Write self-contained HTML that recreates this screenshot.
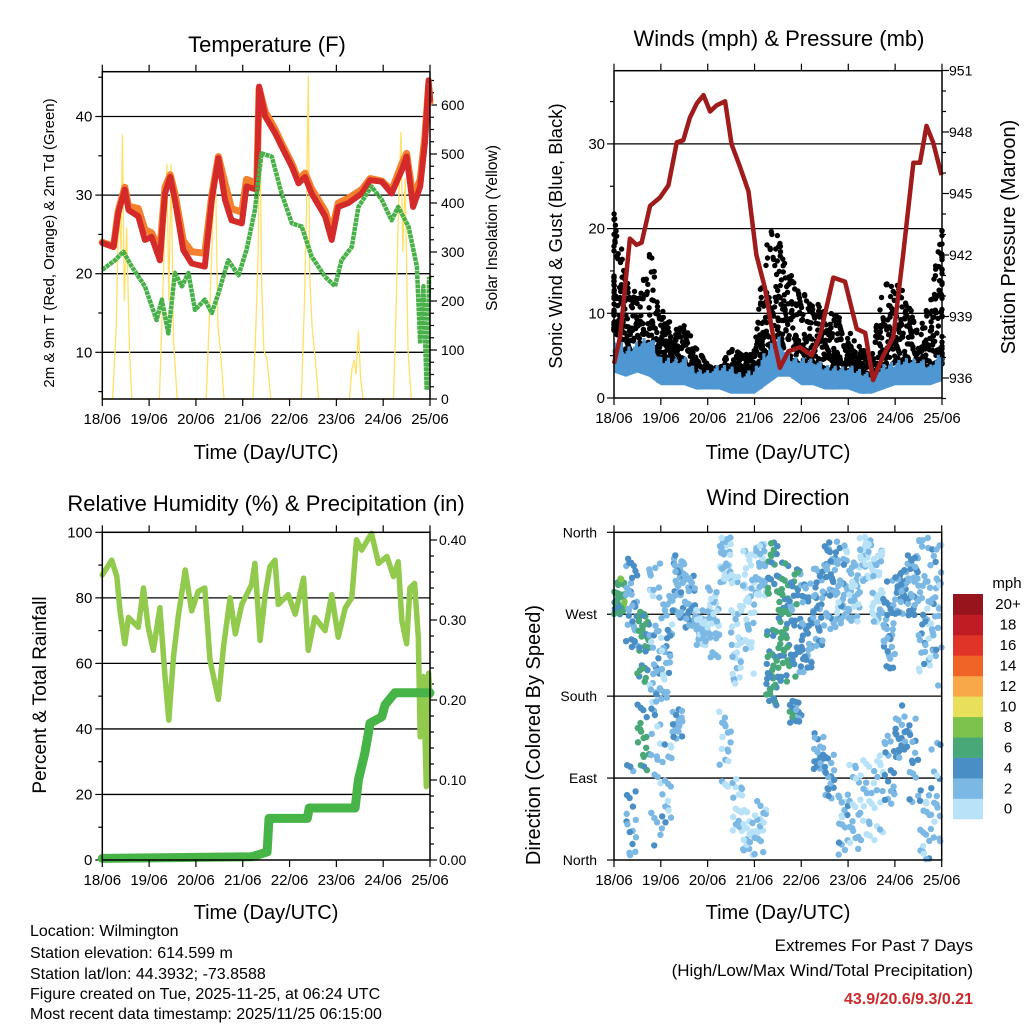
<!DOCTYPE html>
<html><head><meta charset="utf-8"><title>Station Meteogram</title>
<style>
html,body{margin:0;padding:0;background:#fff;}
svg{display:block;font-family:"Liberation Sans",Arial,sans-serif;}
</style></head>
<body>
<svg id="fig" width="1024" height="1024" viewBox="0 0 1024 1024" xmlns="http://www.w3.org/2000/svg">
<rect x="0" y="0" width="1024" height="1024" fill="#fff"/>
<g id="p1"></g>
<g id="p2"></g>
<g id="p3"></g>
<g id="p4"></g>

<text x="267" y="52" font-size="22" text-anchor="middle">Temperature (F)</text>
<text x="779" y="46" font-size="22" text-anchor="middle">Winds (mph) &amp; Pressure (mb)</text>
<text x="266" y="511" font-size="22" text-anchor="middle">Relative Humidity (%) &amp; Precipitation (in)</text>
<text x="778" y="505" font-size="22" text-anchor="middle">Wind Direction</text>

<text x="266" y="459" font-size="20" text-anchor="middle">Time (Day/UTC)</text>
<text x="778" y="459" font-size="20" text-anchor="middle">Time (Day/UTC)</text>
<text x="266" y="919" font-size="20" text-anchor="middle">Time (Day/UTC)</text>
<text x="778" y="919" font-size="20" text-anchor="middle">Time (Day/UTC)</text>

<text transform="translate(54,243) rotate(-90)" font-size="15" text-anchor="middle">2m &amp; 9m T (Red, Orange) &amp; 2m Td (Green)</text>
<text transform="translate(497,228) rotate(-90)" font-size="15.5" text-anchor="middle">Solar Insolation (Yellow)</text>
<text transform="translate(562,236) rotate(-90)" font-size="18.5" text-anchor="middle">Sonic Wind &amp; Gust (Blue, Black)</text>
<text transform="translate(1015,237) rotate(-90)" font-size="20" text-anchor="middle">Station Pressure (Maroon)</text>
<text transform="translate(46,695) rotate(-90)" font-size="19" text-anchor="middle">Percent &amp; Total Rainfall</text>
<text transform="translate(540,735) rotate(-90)" font-size="20" text-anchor="middle">Direction (Colored By Speed)</text>

<g font-size="16">
<text x="30" y="936">Location: Wilmington</text>
<text x="30" y="958">Station elevation: 614.599 m</text>
<text x="30" y="979">Station lat/lon: 44.3932; -73.8588</text>
<text x="30" y="999">Figure created on Tue, 2025-11-25, at 06:24 UTC</text>
<text x="30" y="1019">Most recent data timestamp: 2025/11/25 06:15:00</text>
</g>
<text x="973" y="951" font-size="17" text-anchor="end">Extremes For Past 7 Days</text>
<text x="973" y="976" font-size="17" text-anchor="end">(High/Low/Max Wind/Total Precipitation)</text>
<text x="973" y="1004" font-size="16" font-weight="bold" fill="#cc2a2a" text-anchor="end">43.9/20.6/9.3/0.21</text>
</svg>

<script>
// ---------- DATA ----------
const dayLabels = ["18/06","19/06","20/06","21/06","22/06","23/06","24/06","25/06"];
const tempTicks = [10,20,30,40];
const solarTicks = [0,100,200,300,400,500,600];
const windTicks = [0,10,20,30];
const pressTicks = [936,939,942,945,948,951];
const rhTicks = [0,20,40,60,80,100];
const precipTicks = ["0.00","0.10","0.20","0.30","0.40"];
const dirTickLabels = ["North","East","South","West","North"];
const dirTickDeg = [0,90,180,270,360];
const cbarLabels = ["0","2","4","6","8","10","12","14","16","18","20+"];
const cbarColors = ["#b8e2f8","#7cb8e4","#4a8ec6","#48a878","#7cc24c","#e8e05a","#f8a848","#f06428","#e03428","#c01c24","#98141c"];

const redT = [0,.24,.34,.48,.56,.77,.91,1.05,1.23,1.34,1.45,1.55,1.73,1.91,2.19,2.34,2.48,2.62,2.76,2.98,3.08,3.30,3.35,3.48,3.69,3.83,4.05,4.19,4.33,4.47,4.76,4.90,5.04,5.26,5.54,5.72,5.97,6.18,6.40,6.50,6.64,6.79,6.89,6.97,7.0];
const redV = [23.9,23.4,27.7,30.7,28.1,27.3,24.3,24.7,21.7,30.2,32.3,29.4,23.0,21.3,20.9,29.4,34.7,29.4,26.8,26.4,31.1,30.7,43.8,40.0,37.9,36.2,33.6,31.5,32.3,30.2,27.3,24.3,28.5,29.0,30.2,31.9,31.7,30.2,33.2,34.9,28.5,31.1,36.6,44.6,42.1];
const orangeV = [24.0,23.5,28.0,31.0,28.6,28.3,25.6,25.2,23.0,31.0,32.6,30.2,24.2,22.8,22.6,30.0,34.9,31.5,28.3,27.8,32.0,31.5,43.6,40.6,38.4,36.6,34.0,31.9,32.8,30.8,28.0,25.3,29.0,29.6,30.7,32.1,31.8,30.6,34.0,35.3,29.6,32.0,37.5,44.0,41.8];
const dewT = [0,.27,.45,.63,.91,1.16,1.27,1.41,1.55,1.70,1.84,1.98,2.19,2.34,2.48,2.69,2.91,3.08,3.26,3.40,3.62,3.83,4.05,4.26,4.47,4.76,4.97,5.11,5.33,5.47,5.75,5.97,6.18,6.32,6.54,6.72,6.79,6.86,6.93,6.98];
const dewV = [20.5,21.7,22.8,20.9,18.4,14.1,16.7,12.4,20.1,18.4,20.1,15.4,16.7,15.0,17.5,21.7,19.8,23.0,28.1,35.3,34.9,30.2,26.4,26.0,22.2,19.6,18.4,21.7,23.4,28.5,31.1,29.4,26.8,28.5,26.0,20.9,11.1,18.4,5.2,19.6];
const solarT = [0,.22,.30,.35,.40,.43,.47,.52,.58,.63,1.22,1.27,1.32,1.38,1.42,1.47,1.52,1.60,2.22,2.30,2.37,2.42,2.47,2.52,2.60,3.22,3.28,3.33,3.36,3.40,3.45,3.52,3.60,4.25,4.32,4.36,4.40,4.43,4.48,4.55,4.62,5.28,5.33,5.38,5.42,5.47,5.52,5.57,6.22,6.28,6.33,6.38,6.42,6.47,6.53,6.60,7.0];
const solarV = [0,0,150,400,300,540,200,350,100,0,0,150,300,480,200,480,120,0,0,200,380,450,150,100,0,0,150,300,640,250,100,80,0,0,200,380,660,250,150,80,0,0,60,80,50,140,40,0,0,200,400,545,300,450,100,0,0];

const windT = [0,.25,.5,.75,1,1.25,1.5,1.75,2,2.25,2.5,2.75,3,3.25,3.5,3.75,4,4.25,4.5,4.75,5,5.25,5.5,5.75,6,6.25,6.5,6.75,7];
const windHi = [8,6,7,8,5,5,5,3.5,3.5,4,4,3,3.5,6,8,5,5,5,4,4,4,3.5,3,4,4.5,5,5,4,6];
const windLo = [3,2.5,3,2.5,1.5,1.5,1.5,1,1,1,.5,.5,.5,1.5,2.5,2.5,1.5,1.5,1,1,1,.5,.5,1,1.5,1.5,1.5,1.5,2];
const gustHi = [22,16,12,18,12,8,9,6,4,3.5,6,5,6,20,20,15,12,13,10,10,8,6,5,14,14,12,8,12,20];
const gustLo = [8,5,4,5,4,3,3,2,2,2,2,2,3,5,4,3,3,3,3,3,2,2,2,3,3,3,2,3,4];
const pressT = [0,.13,.34,.48,.59,.77,.98,1.16,1.34,1.48,1.62,1.77,1.91,2.05,2.19,2.37,2.51,2.69,2.87,3.04,3.22,3.40,3.54,3.72,3.97,4.22,4.40,4.68,4.93,5.18,5.36,5.53,5.75,5.96,6.17,6.39,6.53,6.67,6.81,6.99];
const pressV = [936.7,938.0,942.8,942.5,942.6,944.4,944.8,945.4,947.5,947.6,948.7,949.4,949.8,949.0,949.3,949.5,947.4,946.3,945.1,942.0,940.4,938.0,936.5,937.3,937.5,937.1,938.1,940.9,940.7,938.4,938.2,935.9,937.1,938.0,942.0,946.5,946.5,948.3,947.5,945.9];

const rhT = [0,.2,.31,.38,.48,.56,.77,.88,.98,1.09,1.23,1.34,1.42,1.52,1.62,1.77,1.91,2.05,2.19,2.30,2.48,2.59,2.73,2.84,2.98,3.19,3.26,3.37,3.48,3.58,3.69,3.76,3.97,4.12,4.30,4.40,4.54,4.76,4.90,5.04,5.19,5.33,5.43,5.54,5.75,5.90,6.08,6.22,6.32,6.40,6.50,6.57,6.67,6.75,6.79,6.86,6.92,6.97,7.0];
const rhV = [87,91.5,86.5,75.8,66,74,71,83,71,64,77,56,42.7,62,74,88.5,76,82,83,61,49,65,80,69,78,84,90.5,67,81,89.5,91.5,78,81,75,86,64,74,70,81,68,77,80,97.7,94.6,99.7,90.5,92.6,86.5,91,73,66,83,84.4,68,37.6,56,22.4,57,50];
const precipT = [0,3.19,3.52,3.56,4.38,4.42,5.40,5.47,5.61,5.72,5.97,6.04,6.25,7.0];
const precipV = [0.002,0.004,0.01,0.052,0.052,0.065,0.065,0.1,0.134,0.171,0.179,0.194,0.209,0.209];

const dirHiC = [290,280,235,250,240,300,285,255,260,330,250,270,320,215,230,260,255,280,300,305,300,330,300,260,295,300,280,270];
const dirHiS = [20,60,40,80,70,35,30,20,40,25,65,70,30,45,50,60,50,55,50,45,40,25,40,50,25,35,80,80];
const dirLoC = [-1,60,130,90,80,150,-1,-1,-1,120,60,30,35,320,300,160,-1,120,90,40,60,70,70,100,140,110,40,70];
const dirLoS = [0,55,45,80,50,20,0,0,0,45,30,25,30,30,30,15,0,20,30,35,50,55,50,40,30,50,40,60];
const dirSpd = [7,4,6.5,3,3,3.5,3.5,2.5,2.5,2.5,1.5,1.5,2.5,6,6.5,5,4.5,4,4,3,2.5,1.5,1.5,4,4.5,4,3,3];

// ---------- HELPERS ----------
const NS = "http://www.w3.org/2000/svg";
function el(tag, parent, attrs){
  const e = document.createElementNS(NS, tag);
  for (const k in attrs) e.setAttribute(k, attrs[k]);
  parent.appendChild(e);
  return e;
}
function frac(x){ return x - Math.floor(x); }
function interp(ts, vs, t){
  if (t <= ts[0]) return vs[0];
  for (let i=1;i<ts.length;i++){ if (t <= ts[i]){ const f=(t-ts[i-1])/(ts[i]-ts[i-1]); return vs[i-1]+f*(vs[i]-vs[i-1]); } }
  return vs[vs.length-1];
}
function linePts(ts, vs, xf, yf){ return ts.map((t,i)=>xf(t).toFixed(1)+","+yf(vs[i]).toFixed(1)).join(" "); }

function frame(g, L, R, T, B, xf, name){
  for (let d=0; d<dayLabels.length; d++){
    const x = xf(d);
    const tb = el("line", g, {x1:x,y1:B,x2:x,y2:B+7,stroke:"#000","stroke-width":1.2});
    
    
    const tt = el("line", g, {x1:x,y1:T,x2:x,y2:T-7,stroke:"#000","stroke-width":1.2});
    
    
    const lb = el("text", g, {x:x,y:B+25,"font-size":15,"text-anchor":"middle"});
    lb.textContent = dayLabels[d];
    
    
  }
  const r = el("rect", g, {x:L,y:T,width:R-L,height:B-T,fill:"none",stroke:"#000","stroke-width":1.5});
  
  
}
function hgrid(g, L, R, y){
  const l = el("line", g, {x1:L,y1:y,x2:R,y2:y,stroke:"#000","stroke-width":1.3});
  
  
}
function ytick(g, x, y, len, label, anchor, lx, fs){
  const t = el("line", g, {x1:x,y1:y,x2:x+len,y2:y,stroke:"#000","stroke-width":1.2});
  
  
  if (label !== null){
    const tx = el("text", g, {x:lx,y:y+5,"font-size":fs||15,"text-anchor":anchor});
    tx.textContent = label;
    
    
  }
}
// deterministic quadratic Weyl placement (not data)
function qa(k, i){ return frac(0.5 + k*0.7548777 + i*0.173); }
function qb(k, i){ return frac(k*k*0.3819660*0.5 + k*0.123 + i*0.311); }

// ---------- PANEL 1: TEMPERATURE ----------
(function(){
  const g = document.getElementById("p1");
  const L=102.3,R=430,T=71.7,B=399;
  const x = t => L + t*(R-L)/7;
  const y = v => 352.3 - (v-10)*7.86;
  const ys = s => 399 - s*0.49;
  tempTicks.forEach(v=>{ hgrid(g,L,R,y(v)); ytick(g,L,y(v),-7,String(v),"end",L-10); });
  [5,15,25,35,45].forEach(v=>ytick(g,L,y(v),-4,null));
  for (let s=0;s<=650;s+=25){ ytick(g,R,ys(s), s%100===0?7:4, (s%100===0 && solarTicks.indexOf(s)>=0)?String(s):null,"start",R+11,14); }
  const sol = el("polyline", g, {points:linePts(solarT,solarV,x,ys),fill:"none",stroke:"#ffe066","stroke-width":1.3});
  
  
  const or = el("polyline", g, {points:linePts(redT,orangeV,x,y),fill:"none",stroke:"#f4802e","stroke-width":7,"stroke-linejoin":"round","stroke-linecap":"round"});
  
  
  const rd = el("polyline", g, {points:linePts(redT,redV,x,y),fill:"none",stroke:"#d42a2a","stroke-width":6,"stroke-linejoin":"round","stroke-linecap":"round"});
  
  
  const dw = el("polyline", g, {points:linePts(dewT,dewV,x,y),fill:"none",stroke:"#48b048","stroke-width":4.5,"stroke-dasharray":"4 0.6","stroke-linejoin":"round"});
  
  
  frame(g,L,R,T,B,x,"temperature");
})();

// ---------- PANEL 2: WINDS & PRESSURE ----------
(function(){
  const g = document.getElementById("p2");
  const L=614,R=942,T=70.7,B=398;
  const x = t => L + t*(R-L)/7;
  const y = v => 398 - v*8.47;
  const yp = p => 378 - (p-936)*20.5;
  windTicks.forEach(v=>{ if(v>0) hgrid(g,L,R,y(v)); ytick(g,L,y(v),-7,String(v),"end",L-9); });
  [5,15,25,35].forEach(v=>ytick(g,L,y(v),-4,null));
  for (let p=935;p<=951;p++){ const maj = pressTicks.indexOf(p)>=0; ytick(g,R,yp(p), maj?7:4, maj?String(p):null,"start",R+7,14); }
  const gg = el("g", g, {});
  
  
  windT.forEach((tc,i)=>{
    for (let k=0;k<60;k++){
      const u = qa(k,i);
      const v = qb(k,i);
      const t = Math.min(7, Math.max(0, tc - 0.125 + u*0.25));
      const lo = interp(windT,gustLo,t), hi = interp(windT,gustHi,t);
      const val = lo + (hi-lo)*Math.pow(v,1.6);
      const c = el("circle", gg, {cx:x(t).toFixed(1),cy:y(val).toFixed(1),r:2.7,fill:"#000"});
      
      
    }
  });
  const pts = [];
  for (let k=0;k<=350;k++){
    const t = k*0.02;
    const lo = interp(windT,windLo,t), hi = interp(windT,windHi,t);
    const f = frac(k*0.6180339);
    const v = (k%2===0) ? lo + (hi-lo)*(0.55+0.45*f) : lo + (hi-lo)*0.25*f;
    pts.push(x(t).toFixed(1)+","+y(v).toFixed(1));
  }
  const up = windT.map((t,i)=>x(t).toFixed(1)+","+y(windHi[i]*0.75+windLo[i]*0.25).toFixed(1));
  const dn = windT.map((t,i)=>x(t).toFixed(1)+","+y(windLo[i]).toFixed(1)).reverse();
  const band = el("polygon", g, {points:up.concat(dn).join(" "),fill:"#4f97d2"});
  
  
  const zz = el("polyline", g, {points:pts.join(" "),fill:"none",stroke:"#4f97d2","stroke-width":3});
  
  
  const pl = el("polyline", g, {points:linePts(pressT,pressV,x,yp),fill:"none",stroke:"#a01c1c","stroke-width":4.5,"stroke-linejoin":"round"});
  
  
  frame(g,L,R,T,B,x,"winds");
})();

// ---------- PANEL 3: RH & PRECIP ----------
(function(){
  const g = document.getElementById("p3");
  const L=102.3,R=430,T=532.3,B=860;
  const x = t => L + t*(R-L)/7;
  const y = v => 860 - v*3.277;
  const yp = p => 860 - p*800;
  rhTicks.forEach(v=>{ if(v>0&&v<100) hgrid(g,L,R,y(v)); ytick(g,L,y(v),-7,String(v),"end",L-10); });
  [10,30,50,70,90].forEach(v=>ytick(g,L,y(v),-4,null));
  for (let k=0;k<=20;k++){ const p=k*0.02; const maj = k%5===0; ytick(g,R,yp(p), maj?7:4, maj?precipTicks[k/5]:null,"start",R+9,14); }
  const rh = el("polyline", g, {points:linePts(rhT,rhV,x,y),fill:"none",stroke:"#92ca4e","stroke-width":5.5,"stroke-linejoin":"round","stroke-linecap":"round"});
  
  
  const pr = el("polyline", g, {points:linePts(precipT,precipV,x,yp),fill:"none",stroke:"#46b446","stroke-width":9,"stroke-linejoin":"round","stroke-linecap":"round"});
  
  
  frame(g,L,R,T,B,x,"humidity");
})();

// ---------- PANEL 4: WIND DIRECTION ----------
(function(){
  const g = document.getElementById("p4");
  const L=614,R=941.7,T=532.3,B=860;
  const x = t => L + t*(R-L)/7;
  const y = d => 860 - d*(B-T)/360;
  dirTickDeg.forEach((d,i)=>{ if(d>0&&d<360) hgrid(g,L,R,y(d)); ytick(g,L,y(d),-7,dirTickLabels[i],"end",L-17,14); });
  const col = s => cbarColors[Math.max(0,Math.min(10,Math.floor(s/2)))];
  const dg = el("g", g, {});
  
  
  dirHiC.forEach((c,i)=>{
    const clusters = [[c,dirHiS[i],34]];
    if (dirLoC[i] >= 0) clusters.push([dirLoC[i],dirLoS[i],18]);
    clusters.forEach((cl,ci)=>{
      for (let k=0;k<cl[2];k++){
        const u = qa(k, i + ci*3.7);
        const v = qb(k, i + ci*2.3);
        const w = frac(k*0.4142136 + i*0.2718);
        const t = i*0.25 + u*0.25;
        let d = cl[0] + (v-0.5)*2*cl[1];
        d = Math.max(1, Math.min(359, d));
        const s = Math.max(0, dirSpd[i] + (w-0.5)*3);
        const p = el("circle", dg, {cx:x(t).toFixed(1),cy:y(d).toFixed(1),r:3.2,fill:col(s)});
        
        
      }
    });
  });
  frame(g,L,R,T,B,x,"direction");
  const cb = el("g", g, {});
  
  
  const bh = 20.45, top = 594;
  cbarColors.forEach((c,k)=>{
    const yy = top + (10-k)*bh;
    const r = el("rect", cb, {x:953,y:yy.toFixed(1),width:30,height:(bh+0.3).toFixed(1),fill:c});
    
    
    const t = el("text", cb, {x:1008,y:(yy+bh/2+5).toFixed(1),"font-size":15,"text-anchor":"middle"});
    t.textContent = cbarLabels[k];
    
    
  });
  const u = el("text", cb, {x:1007,y:588,"font-size":15,"text-anchor":"middle"});
  u.textContent = "mph";
  
  
})();
</script>
</body></html>
